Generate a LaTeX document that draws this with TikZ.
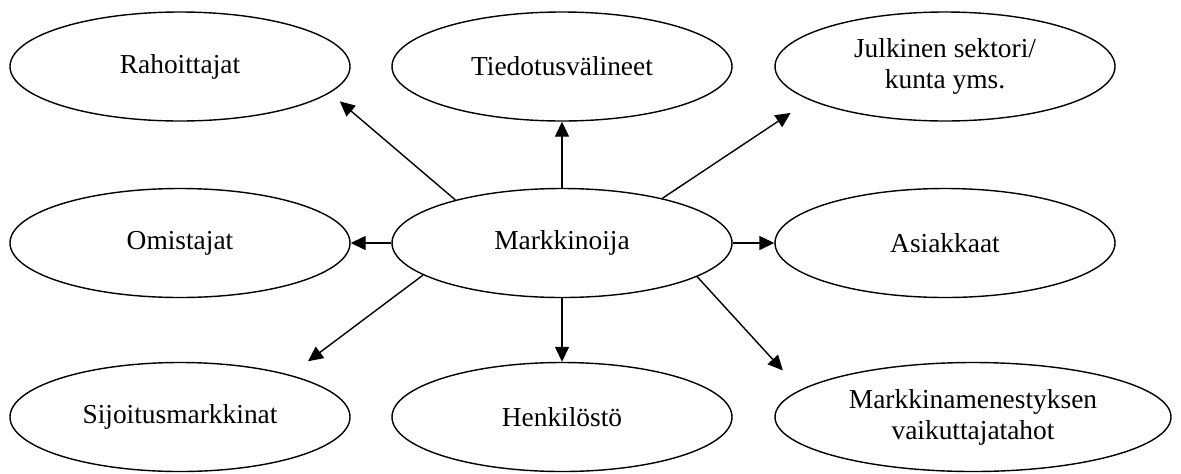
\documentclass[tikz,border=0pt]{standalone}
\usepackage{fontspec}
\setmainfont{Liberation Serif}
\usetikzlibrary{shapes.geometric,positioning,arrows.meta}

\begin{document}
\begin{tikzpicture}[
	party/.style={shape=ellipse,draw,line width=0.8pt,inner sep=0pt,minimum width=6.8cm,minimum height=2.18cm,align=center,font=\fontsize{15.6}{17.6}\selectfont},
	arr/.style={line width=0.8pt,-{Triangle[length=0.3cm,width=0.28cm]}},
	on grid]
	\useasboundingbox (0,0) rectangle (23.62,-9.46);

	\node[party] (markk) at (11.24,-4.86) {Markkinoija};
	\node[party] (rah) [above left=3.53cm and 7.64cm of markk] {Rahoittajat};
	\node[party] (tie) [above=3.53cm of markk] {Tiedotusvälineet};
	\node[party] (jul) [above right=3.53cm and 7.66cm of markk] {Julkinen sektori/\\kunta yms.};
	\node[party] (omi) [left=7.64cm of markk] {Omistajat};
	\node[party] (asi) [right=7.66cm of markk] {Asiakkaat};
	\node[party] (sij) [below left=3.48cm and 7.64cm of markk] {Sijoitusmarkkinat};
	\node[party] (hen) [below=3.48cm of markk] {Henkilöstö};
	\node[party,minimum width=7.92cm] (men) [below right=3.48cm and 8.22cm of markk] {Markkinamenestyksen\\vaikuttajatahot};

	\draw[arr] (markk.west) -- (omi.east);
	\draw[arr] (markk.east) -- (asi.west);
	\draw[arr] (markk.north) -- (tie.south);
	\draw[arr] (markk.south) -- (hen.north);
	\draw[arr,shorten >=0.26cm] (markk.158.5) -- (rah.-10.3);
	\draw[arr,shorten >=0.46cm] (markk.24.9) -- (jul.-166.2);
	\draw[arr,shorten >=0.45cm] (markk.193.8) -- (sij.21);
	\draw[arr,shorten >=0.52cm] (markk.-14.2) -- (men.171.2);
\end{tikzpicture}
\end{document}
